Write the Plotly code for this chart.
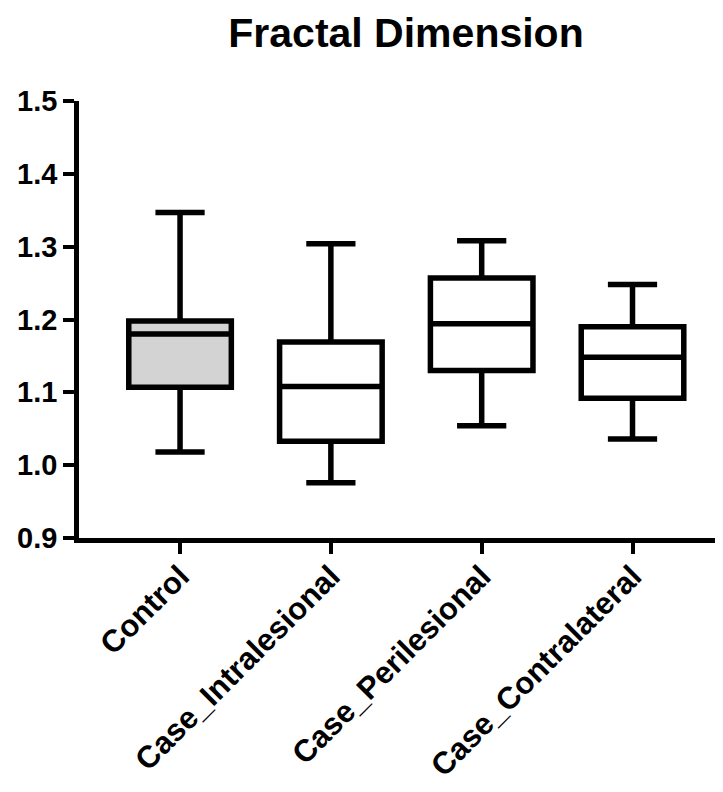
import plotly.graph_objects as go

categories = ["Control", "Case_Intralesional", "Case_Perilesional", "Case_Contralateral"]
lower_whisker = [1.018, 0.976, 1.054, 1.036]
q1_values = [1.107, 1.033, 1.130, 1.092]
median_values = [1.180, 1.108, 1.194, 1.148]
q3_values = [1.198, 1.169, 1.257, 1.190]
upper_whisker = [1.347, 1.304, 1.308, 1.248]
fill_colors = ["#d3d3d3", "white", "white", "white"]

fig = go.Figure()
for i, cat in enumerate(categories):
    fig.add_trace(go.Box(
        x=[cat],
        q1=[q1_values[i]],
        median=[median_values[i]],
        q3=[q3_values[i]],
        lowerfence=[lower_whisker[i]],
        upperfence=[upper_whisker[i]],
        fillcolor=fill_colors[i],
        line=dict(color="black", width=5.5),
        width=0.68,
        whiskerwidth=0.48,
        boxpoints=False,
        showlegend=False,
        hoverinfo="skip",
    ))

font_fam = "Liberation Sans, Arial, sans-serif"
fig.update_layout(
    width=723, height=792,
    plot_bgcolor="white", paper_bgcolor="white",
    boxmode="overlay",
    margin=dict(l=71, r=8, t=93, b=262, autoexpand=False),
    title=dict(
        text="<b>Fractal Dimension</b>",
        x=398 / 723, xref="container", xanchor="center",
        y=1 - 25 / 792, yref="container", yanchor="middle",
        font=dict(family=font_fam, size=41, color="black"),
    ),
    font=dict(family=font_fam, color="black"),
)
fig.update_yaxes(
    range=[0.9, 1.5], dtick=0.1, tickformat=".1f",
    showgrid=False, zeroline=False,
    showline=True, linecolor="black", linewidth=4.5,
    ticks="outside", ticklen=11, tickwidth=4, tickcolor="black",
    tickfont=dict(size=29, family=font_fam, weight="bold"),
)
fig.update_xaxes(
    range=[-0.67, 3.6],
    showgrid=False, zeroline=False,
    showline=True, linecolor="black", linewidth=4.5,
    ticks="outside", ticklen=11, tickwidth=4, tickcolor="black",
    tickangle=-45,
    ticklabelstandoff=-8,
    tickfont=dict(size=31, family=font_fam, weight="bold"),
)
fig.write_html("out.html")
